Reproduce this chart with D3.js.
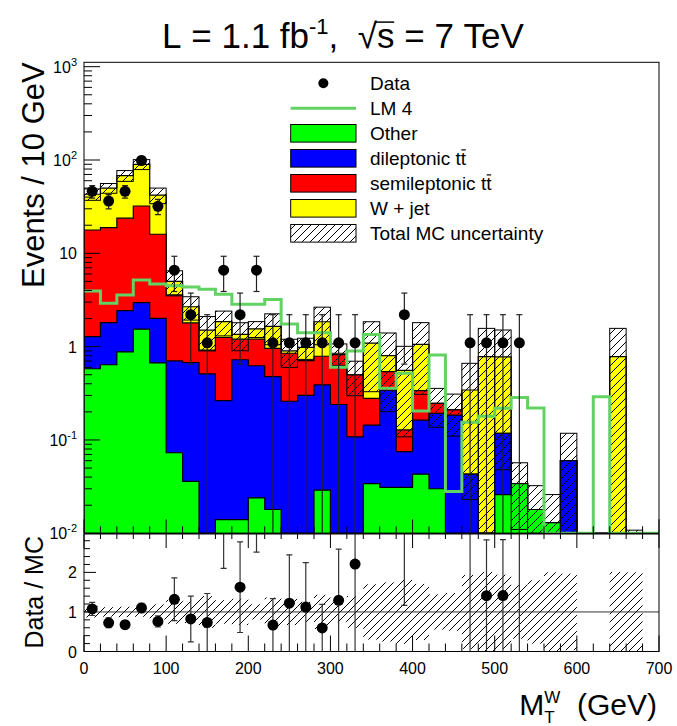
<!DOCTYPE html>
<html>
<head>
<meta charset="utf-8">
<script src="https://cdn.jsdelivr.net/npm/d3@7"></script>
<style>
  body { margin: 0; background: #fff; }
  svg { display: block; }
  text { font-family: "Liberation Sans", Arial, Helvetica, sans-serif; fill: #000; }
</style>
</head>
<body>
<svg id="chart" width="677" height="726"></svg>
<script>
// ---- bins (GeV, lower edges, 20 GeV wide) ----
const binLow = [0,20,40,60,80,100,120,140,160,180,200,220,240,260,280,300,320,340,
                360,380,400,420,440,460,480,500,520,540,560,580,600,620,640,660,680];
const binWidth = 20;

// ---- MC components (events / 10 GeV) ----
const otherMC = [0.58,0.64,0.88,1.54,0.67,0.073,0.036,0,0.014,0.014,0.024,0.018,0,0,0.029,0,0,
                 0.034,0.031,0.031,0.043,0.030,0,0,0,0.026,0.034,0.018,0.013,0,0,0,0,0,0];
const dileptonicTT = [0.70,1.17,1.55,1.42,1.34,0.63,0.64,0.51,0.25,0.71,0.60,0.46,0.26,0.30,0.36,0.24,
                      0.108,0.11,0.31,0.044,0.12,0.163,0.185,0.043,0,0.092,0,0,0,0.06,0,0,0,0,0];
const semileptonicTT = [16.5,17.0,21.4,29.2,14.0,2.88,1.12,0.41,0.99,0.48,0.58,0.48,0.59,0.41,0.40,0.58,
                        0.39,0.135,0.20,0.053,0.175,0.054,0.025,0,0,0,0,0,0,0,0,0,0,0,0];
const wJets = [25.2,31.2,44.2,57.8,26.0,1.42,0.88,0.58,0.60,0.15,0.35,0.69,0.05,0.27,1.06,0.03,0,
               0.81,0.26,0.43,0.72,0,0,0.30,0.78,0.66,0,0,0,0,0,0,0.78,0.0054,0];
const mcErr = [6,6,9,11,8,1.5,0.75,0.6,0.55,0.45,0.3,0.6,0.3,0.25,0.8,0.22,0.2,0.76,0.6,0.45,0.75,
               0.11,0.1,0.32,0.79,0.73,0.023,0.0144,0.013,0.058,0,0,0.79,0.0054,0];

// ---- signal point LM4 ----
const lm4 = [3.95,2.92,3.58,5.19,4.7,4.5,4.35,4.12,3.64,2.85,2.85,3.2,1.75,1.41,1.41,0.60,0.9,1.35,
             0.358,0.52,0.205,0.815,0.028,0.155,0.18,0.219,0.286,0.22,0,0,0,0.29,0,0,0];

// ---- data ----
const dataVals = [46.2,36.3,46.2,99,31.9,6.6,2.2,1.1,6.6,2.2,6.6,1.1,1.1,1.1,1.1,1.1,1.1,0,0,2.2,
                  0,0,0,1.1,1.1,1.1,1.1,0,0,0,0,0,0,0,0];
const dataErr = [7.1,6.3,7.1,10.4,5.9,2.7,1.55,1.1,2.7,1.55,2.7,1.1,1.1,1.1,1.1,1.1,1.1,0,0,1.55,
                 0,0,0,1.1,1.1,1.1,1.1,0,0,0,0,0,0,0,0];

// ---- axis ticks ----
const xTickLabels = [0,100,200,300,400,500,600,700];
const yDecades = [-2,-1,0,1,2,3];
const ratioTickLabels = [0,1,2];

// ---- legend ----
const legendEntries = [
  {kind: "marker", label: [{t: "Data"}]},
  {kind: "line", label: [{t: "LM 4"}]},
  {kind: "box", color: "#00ff00", label: [{t: "Other"}]},
  {kind: "box", color: "#0000ff", label: [{t: "dileptonic t"}, {t: "t", over: 0.8}]},
  {kind: "box", color: "#ff0000", label: [{t: "semileptonic t"}, {t: "t", over: 0.8}]},
  {kind: "box", color: "#ffff00", label: [{t: "W + jet"}]},
  {kind: "hatch", label: [{t: "Total MC uncertainty"}]}
];

const colors = {other: "#00ff00", dilep: "#0000ff", semi: "#ff0000", wjet: "#ffff00", lm4: "#62d262"};

// ---- layout ----
const xL = 84, xR = 659;
const upTop = 62.3, upBot = 533.3;
const loTop = 534, loBot = 651.5;

const svg = d3.select("#chart");
const x = d3.scaleLinear().domain([0, 700]).range([xL, xR]);
const yU = d3.scaleLog().domain([0.01, 1114]).range([upBot, upTop]);
const yL = d3.scaleLinear().domain([0, 2.97]).range([loBot, loTop]);
const yc = v => yU(Math.max(v, 0.01));

const defs = svg.append("defs");
defs.append("clipPath").attr("id", "clipUp").append("rect")
  .attr("x", xL).attr("y", upTop).attr("width", xR - xL).attr("height", upBot - upTop);
defs.append("clipPath").attr("id", "clipLo").append("rect")
  .attr("x", xL).attr("y", loTop).attr("width", xR - xL).attr("height", loBot - loTop);
const hp = defs.append("pattern").attr("id", "hatch").attr("patternUnits", "userSpaceOnUse")
  .attr("width", 8).attr("height", 8);
hp.append("path").attr("d", "M-2,2 L2,-2 M0,8 L8,0 M6,10 L10,6")
  .attr("stroke", "#000").attr("stroke-width", 1).attr("fill", "none");

// rich text: sequence of segments, optional stacked sub/superscripts and overbars
function rich(parent, px, py, segs, anchor) {
  const g = parent.append("g");
  let cx = 0;
  segs.forEach(seg => {
    const parts = seg.parts || [seg];
    let adv = 0;
    parts.forEach(p => {
      const dy = p.dy || 0;
      const t = g.append("text").attr("x", cx).attr("y", dy).attr("font-size", p.s)
        .text(p.t.replace(/ /g, "\u00a0"));
      const w = t.node().getComputedTextLength();
      if (p.over) {
        g.append("line").attr("x1", cx + (p.ox || 0.5)).attr("x2", cx + w - 0.3)
          .attr("y1", dy - p.s * p.over).attr("y2", dy - p.s * p.over)
          .attr("stroke", "#000").attr("stroke-width", p.ow || 1.2);
      }
      adv = Math.max(adv, w);
    });
    cx += adv;
  });
  const sh = anchor === "end" ? -cx : anchor === "middle" ? -cx / 2 : 0;
  g.attr("transform", `translate(${px + sh},${py})`);
  return g;
}

// ---- stacked histograms ----
const n = binLow.length;
const cumOther = otherMC.slice();
const cumDilep = cumOther.map((v, i) => v + dileptonicTT[i]);
const cumSemi = cumDilep.map((v, i) => v + semileptonicTT[i]);
const cumTotal = cumSemi.map((v, i) => v + wJets[i]);

const steps = vals => binLow.map((b, i) => [b, vals[i]]).concat([[binLow[n - 1] + binWidth, vals[n - 1]]]);
const area = d3.area().x(d => x(d[0])).y0(upBot).y1(d => yc(d[1])).curve(d3.curveStepAfter);
const line = d3.line().x(d => x(d[0])).y(d => yc(d[1])).curve(d3.curveStepAfter);

const up = svg.append("g").attr("clip-path", "url(#clipUp)");
[[cumTotal, colors.wjet], [cumSemi, colors.semi], [cumDilep, colors.dilep], [cumOther, colors.other]]
  .forEach(([vals, col]) => {
    up.append("path").attr("d", area(steps(vals))).attr("fill", col)
      .attr("stroke", "#000").attr("stroke-width", 1.2);
  });

// MC uncertainty band
binLow.forEach((b, i) => {
  if (mcErr[i] <= 0) return;
  const top = yc(cumTotal[i] + mcErr[i]);
  const bot = yc(cumTotal[i] - mcErr[i]);
  up.append("rect").attr("x", x(b)).attr("width", x(b + binWidth) - x(b))
    .attr("y", top).attr("height", Math.max(0, bot - top))
    .attr("fill", "url(#hatch)").attr("stroke", "#000").attr("stroke-width", 1);
});

// LM4 overlay
up.append("path").attr("d", line(steps(lm4))).attr("fill", "none")
  .attr("stroke", colors.lm4).attr("stroke-width", 3);

// data with error bars
const capW = 3;
binLow.forEach((b, i) => {
  const v = dataVals[i];
  if (v <= 0) return;
  const cxp = x(b + binWidth / 2);
  const lo = v - dataErr[i], hi = v + dataErr[i];
  up.append("line").attr("x1", cxp).attr("x2", cxp).attr("y1", yc(lo)).attr("y2", yU(hi))
    .attr("stroke", "#222").attr("stroke-width", 1.2);
  up.append("line").attr("x1", cxp - capW).attr("x2", cxp + capW).attr("y1", yU(hi)).attr("y2", yU(hi))
    .attr("stroke", "#222").attr("stroke-width", 1.2);
  if (lo > 0.01) {
    up.append("line").attr("x1", cxp - capW).attr("x2", cxp + capW).attr("y1", yU(lo)).attr("y2", yU(lo))
      .attr("stroke", "#222").attr("stroke-width", 1.2);
  }
  up.append("circle").attr("cx", cxp).attr("cy", yU(v)).attr("r", 5.5).attr("fill", "#000");
});

// ---- ratio panel ----
const lo = svg.append("g").attr("clip-path", "url(#clipLo)");
binLow.forEach((b, i) => {
  const tot = cumTotal[i];
  if (tot <= 0 || mcErr[i] <= 0) return;
  const rel = mcErr[i] / tot;
  const top = yL(Math.min(2.97, 1 + rel)), bot = yL(Math.max(0, 1 - rel));
  lo.append("rect").attr("x", x(b)).attr("width", x(b + binWidth) - x(b))
    .attr("y", top).attr("height", bot - top).attr("fill", "url(#hatch)");
});
lo.append("line").attr("x1", xL).attr("x2", xR).attr("y1", yL(1)).attr("y2", yL(1))
  .attr("stroke", "#333").attr("stroke-width", 1);
binLow.forEach((b, i) => {
  const tot = cumTotal[i], v = dataVals[i];
  if (tot <= 0 || v <= 0) return;
  const r = v / tot, e = dataErr[i] / tot;
  const cxp = x(b + binWidth / 2);
  const rl = Math.max(0, r - e), rh = r + e;
  lo.append("line").attr("x1", cxp).attr("x2", cxp).attr("y1", yL(rl)).attr("y2", yL(Math.min(rh, 3.2)))
    .attr("stroke", "#333").attr("stroke-width", 1.2);
  if (rh < 2.97) lo.append("line").attr("x1", cxp - capW).attr("x2", cxp + capW).attr("y1", yL(rh)).attr("y2", yL(rh))
    .attr("stroke", "#333").attr("stroke-width", 1.2);
  if (rl > 0) lo.append("line").attr("x1", cxp - capW).attr("x2", cxp + capW).attr("y1", yL(rl)).attr("y2", yL(rl))
    .attr("stroke", "#333").attr("stroke-width", 1.2);
  if (r <= 2.97) lo.append("circle").attr("cx", cxp).attr("cy", yL(r)).attr("r", 5.5).attr("fill", "#000");
});

// ---- frames and ticks ----
const ax = svg.append("g").attr("stroke", "#000").attr("stroke-width", 1);
ax.append("rect").attr("x", xL).attr("y", upTop).attr("width", xR - xL).attr("height", upBot - upTop).attr("fill", "none");
ax.append("rect").attr("x", xL).attr("y", loTop).attr("width", xR - xL).attr("height", loBot - loTop).attr("fill", "none");

const xMinor = d3.range(0, 701, 20);
xMinor.forEach(v => {
  const major = v % 100 === 0;
  const px = x(v);
  // upper pad bottom ticks
  ax.append("line").attr("x1", px).attr("x2", px).attr("y1", upBot).attr("y2", upBot - (major ? 14 : 7));
  // ratio pad bottom and top ticks
  ax.append("line").attr("x1", px).attr("x2", px).attr("y1", loBot).attr("y2", loBot - (major ? 16 : 8));
  ax.append("line").attr("x1", px).attr("x2", px).attr("y1", loTop).attr("y2", loTop + (major ? 14 : 5));
});

yDecades.forEach(k => {
  const base = Math.pow(10, k);
  ax.append("line").attr("x1", xL).attr("x2", xL + 16).attr("y1", yU(base)).attr("y2", yU(base));
  if (k < 3) {
    for (let m = 2; m <= 9; m++) {
      const py = yU(m * base);
      ax.append("line").attr("x1", xL).attr("x2", xL + 8).attr("y1", py).attr("y2", py);
    }
  }
});

d3.range(0, 2.9, 0.2).forEach(v => {
  const major = Math.abs(v - Math.round(v)) < 1e-6;
  ax.append("line").attr("x1", xL).attr("x2", xL + (major ? 12 : 6)).attr("y1", yL(v)).attr("y2", yL(v));
});

// ---- labels ----
const lab = svg.append("g");
xTickLabels.forEach(v => {
  lab.append("text").attr("x", x(v)).attr("y", 674).attr("font-size", 16)
    .attr("text-anchor", "middle").text(v);
});
yDecades.forEach(k => {
  const segs = k === 0 ? [{t: "1", s: 16}] : k === 1 ? [{t: "10", s: 16}]
    : [{t: "10", s: 16}, {t: String(k), s: 11, dy: -7}];
  rich(lab, 77, yU(Math.pow(10, k)) + 6, segs, "end");
});
ratioTickLabels.forEach(v => {
  lab.append("text").attr("x", 77).attr("y", yL(v) + 6).attr("font-size", 16)
    .attr("text-anchor", "end").text(v);
});

// axis titles
lab.append("text").attr("transform", `translate(44,${upTop}) rotate(-90)`)
  .attr("font-size", 31).attr("text-anchor", "end").text("Events / 10 GeV");
lab.append("text").attr("transform", `translate(43,${loTop + 2}) rotate(-90)`)
  .attr("font-size", 25).attr("text-anchor", "end").text("Data / MC");
rich(lab, 657, 715, [
  {t: "M", s: 30},
  {parts: [{t: "W", s: 17, dy: -12}, {t: "T", s: 17, dy: 8}]},
  {t: "  (GeV)", s: 30}
], "end");

// title
rich(lab, 343, 48, [
  {t: "L = 1.1 fb", s: 35},
  {t: "-1", s: 22, dy: -14},
  {t: ",  ", s: 35},
  {t: "\u221a", s: 35},
  {t: "s", s: 35, over: 0.74, ox: -1, ow: 1.5},
  {t: " = 7 TeV", s: 35}
], "middle");

// ---- legend ----
const lg = svg.append("g");
const lgBoxX = 290.7, lgBoxW = 65.3, lgTextX = 370, lgY0 = 83.3, lgDy = 25;
legendEntries.forEach((e, i) => {
  const cy = lgY0 + i * lgDy;
  if (e.kind === "marker") {
    lg.append("circle").attr("cx", lgBoxX + lgBoxW / 2).attr("cy", cy).attr("r", 5).attr("fill", "#000");
  } else if (e.kind === "line") {
    lg.append("line").attr("x1", lgBoxX).attr("x2", lgBoxX + lgBoxW).attr("y1", cy).attr("y2", cy)
      .attr("stroke", colors.lm4).attr("stroke-width", 3);
  } else {
    lg.append("rect").attr("x", lgBoxX).attr("y", cy - 8.8).attr("width", lgBoxW).attr("height", 17.6)
      .attr("fill", e.kind === "hatch" ? "url(#hatch)" : e.color)
      .attr("stroke", "#000").attr("stroke-width", 1);
  }
  rich(lg, lgTextX, cy + 6.8, e.label.map(p => Object.assign({s: 19}, p)), "start");
});
</script>
</body>
</html>
